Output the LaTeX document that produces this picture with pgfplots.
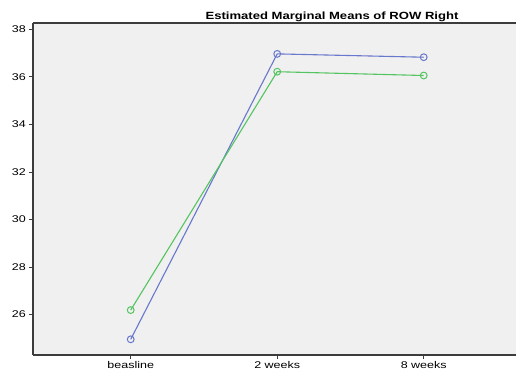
\documentclass[border=0pt]{standalone}
\usepackage{fontspec}
\setmainfont{Liberation Sans}
\usepackage{pgfplots}
\pgfplotsset{compat=1.18}
\usetikzlibrary{calc}
\definecolor{bgc}{RGB}{240,240,240}
\definecolor{sblue}{RGB}{104,120,204}
\definecolor{sgreen}{RGB}{84,196,96}
\definecolor{axc}{RGB}{60,60,60}
\begin{document}
\begin{tikzpicture}
\begin{axis}[
  scale only axis,
  width=483bp, height=332bp,
  xmin=-0.667, xmax=2.63,
  ymin=24.3, ymax=38.27,
  separate axis lines,
  axis x line*=box,
  axis y line*=left,
  axis line style={axc, line width=1.1bp},
  axis background/.style={fill=bgc},
  xtick={0,1,2},
  xticklabels={beasline,2 weeks,8 weeks},
  ytick={26,28,30,32,34,36,38},
  xtick pos=bottom, ytick pos=left,
  tick align=outside,
  major tick length=4bp,
  tick style={axc, line width=1bp},
  tick label style={font=\fontsize{9.8}{11}\selectfont, xscale=1.28},
  xticklabel style={yshift=1bp},
  yticklabel style={xshift=1bp},
  /pgf/number format/assume math mode=true,
  clip=false,
]
\addplot[sblue, line width=1.1bp, mark=o, mark size=3.4bp, mark options={line width=1bp}] coordinates {(0,24.96) (1,36.97) (2,36.83)};
\addplot[sgreen, line width=1.1bp, mark=o, mark size=3.4bp, mark options={line width=1bp}] coordinates {(0,26.19) (1,36.22) (2,36.06)};
\coordinate (sw) at (rel axis cs:0,0);
\coordinate (ne) at (rel axis cs:1,1);
\end{axis}
\node[anchor=base, xscale=1.25, font=\bfseries\fontsize{10.5}{12}\selectfont] at ($(sw)+(299bp,335bp)$) {Estimated Marginal Means of ROW Right};
\pgfresetboundingbox
\path ($(sw)+(-33bp,-19bp)$) rectangle ($(ne)+(0bp,23bp)$);
\end{tikzpicture}
\end{document}
